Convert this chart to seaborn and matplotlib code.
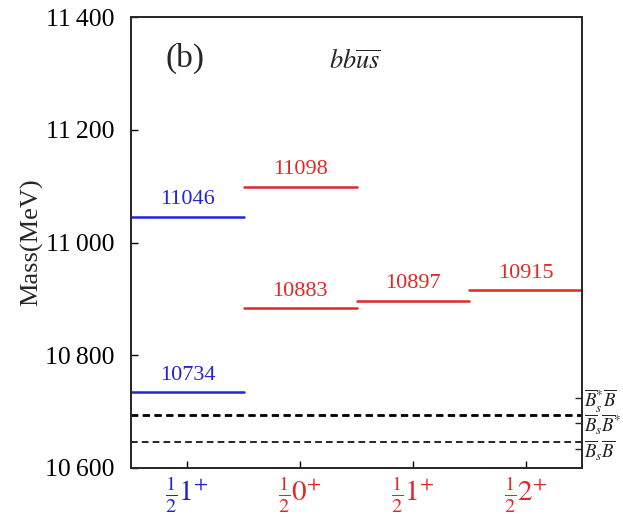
import matplotlib
matplotlib.use("Agg")
import matplotlib.pyplot as plt
import seaborn as sns
import pandas as pd
import numpy as np

# ---- data ----
columns = [r"$\frac{1}{2}1^{+}$", r"$\frac{1}{2}0^{+}$", r"$\frac{1}{2}1^{+}$", r"$\frac{1}{2}2^{+}$"]
column_colors = ["#2323d8", "#e02828", "#e02828", "#e02828"]
level_column = [0, 0, 1, 1, 2, 3]
level_mass = [11046, 10734, 11098, 10883, 10897, 10915]
thresholds = [10646, 10692, 10694]
threshold_label_pos = [10724, 10680, 10634]
threshold_labels = [r"$\overline{B}_s^{*}\overline{B}$", r"$\overline{B}_s\overline{B}^{*}$", r"$\overline{B}_s\overline{B}$"]
yticks = [10600, 10800, 11000, 11200, 11400]
ytick_labels = ["10\u2009600", "10\u2009800", "11\u2009000", "11\u2009200", "11\u2009400"]

sns.set_theme(style="ticks")
plt.rcParams["font.family"] = ["Liberation Serif", "DejaVu Serif"]
plt.rcParams["mathtext.fontset"] = "stix"

df = pd.DataFrame({"col": level_column, "mass": level_mass})
df["color"] = [column_colors[c] for c in df["col"]]

fig = plt.figure(figsize=(6.23, 5.17), dpi=100)
ax = fig.add_axes([131/623, 1 - 468/517, (582-131)/623, (468-17)/517])

# level lines
for _, r in df.iterrows():
    sns.lineplot(x=[r["col"] - 0.5, r["col"] + 0.5], y=[r["mass"], r["mass"]],
                 color=r["color"], lw=1.8, ax=ax)
    ax.text(r["col"], r["mass"] + 14, f"{int(r['mass'])}", color=r["color"],
            ha="center", va="bottom", fontsize=16)

# thresholds
for i, t in enumerate(thresholds):
    ax.axhline(t, color="black", ls=(0, (4, 2.5)), lw=1.2 if i == 0 else 1.3)

ax.set_xlim(-0.5, 3.5)
ax.set_ylim(10600, 11400)
ax.set_xticks(range(4))
ax.set_xticklabels(columns, fontsize=21)
ax.set_yticks(yticks)
ax.set_yticklabels(ytick_labels, fontsize=18.5)
ax.tick_params(axis="both", direction="in", length=5, width=1, colors="black")
ax.tick_params(axis="y", pad=12)
ax.tick_params(axis="x", pad=5)
for lab, c in zip(ax.get_xticklabels(), column_colors):
    lab.set_color(c)
ax.set_ylabel("Mass(MeV)", fontsize=19, labelpad=1)
for s in ax.spines.values():
    s.set_linewidth(1.3)
    s.set_color("#333333")

ax2 = ax.twinx()
ax2.set_ylim(ax.get_ylim())
ax2.set_yticks(threshold_label_pos)
ax2.set_yticklabels(threshold_labels, fontsize=13.5)
ax2.tick_params(axis="y", direction="in", length=5, width=1, pad=1.5)

ax.text(0.12, 0.909, "(b)", transform=ax.transAxes, fontsize=24, va="center", ha="center")
ax.text(0.497, 0.90, r"$bb\overline{us}$", transform=ax.transAxes, fontsize=19, va="center", ha="center")

fig.savefig("out.png", dpi=100)
